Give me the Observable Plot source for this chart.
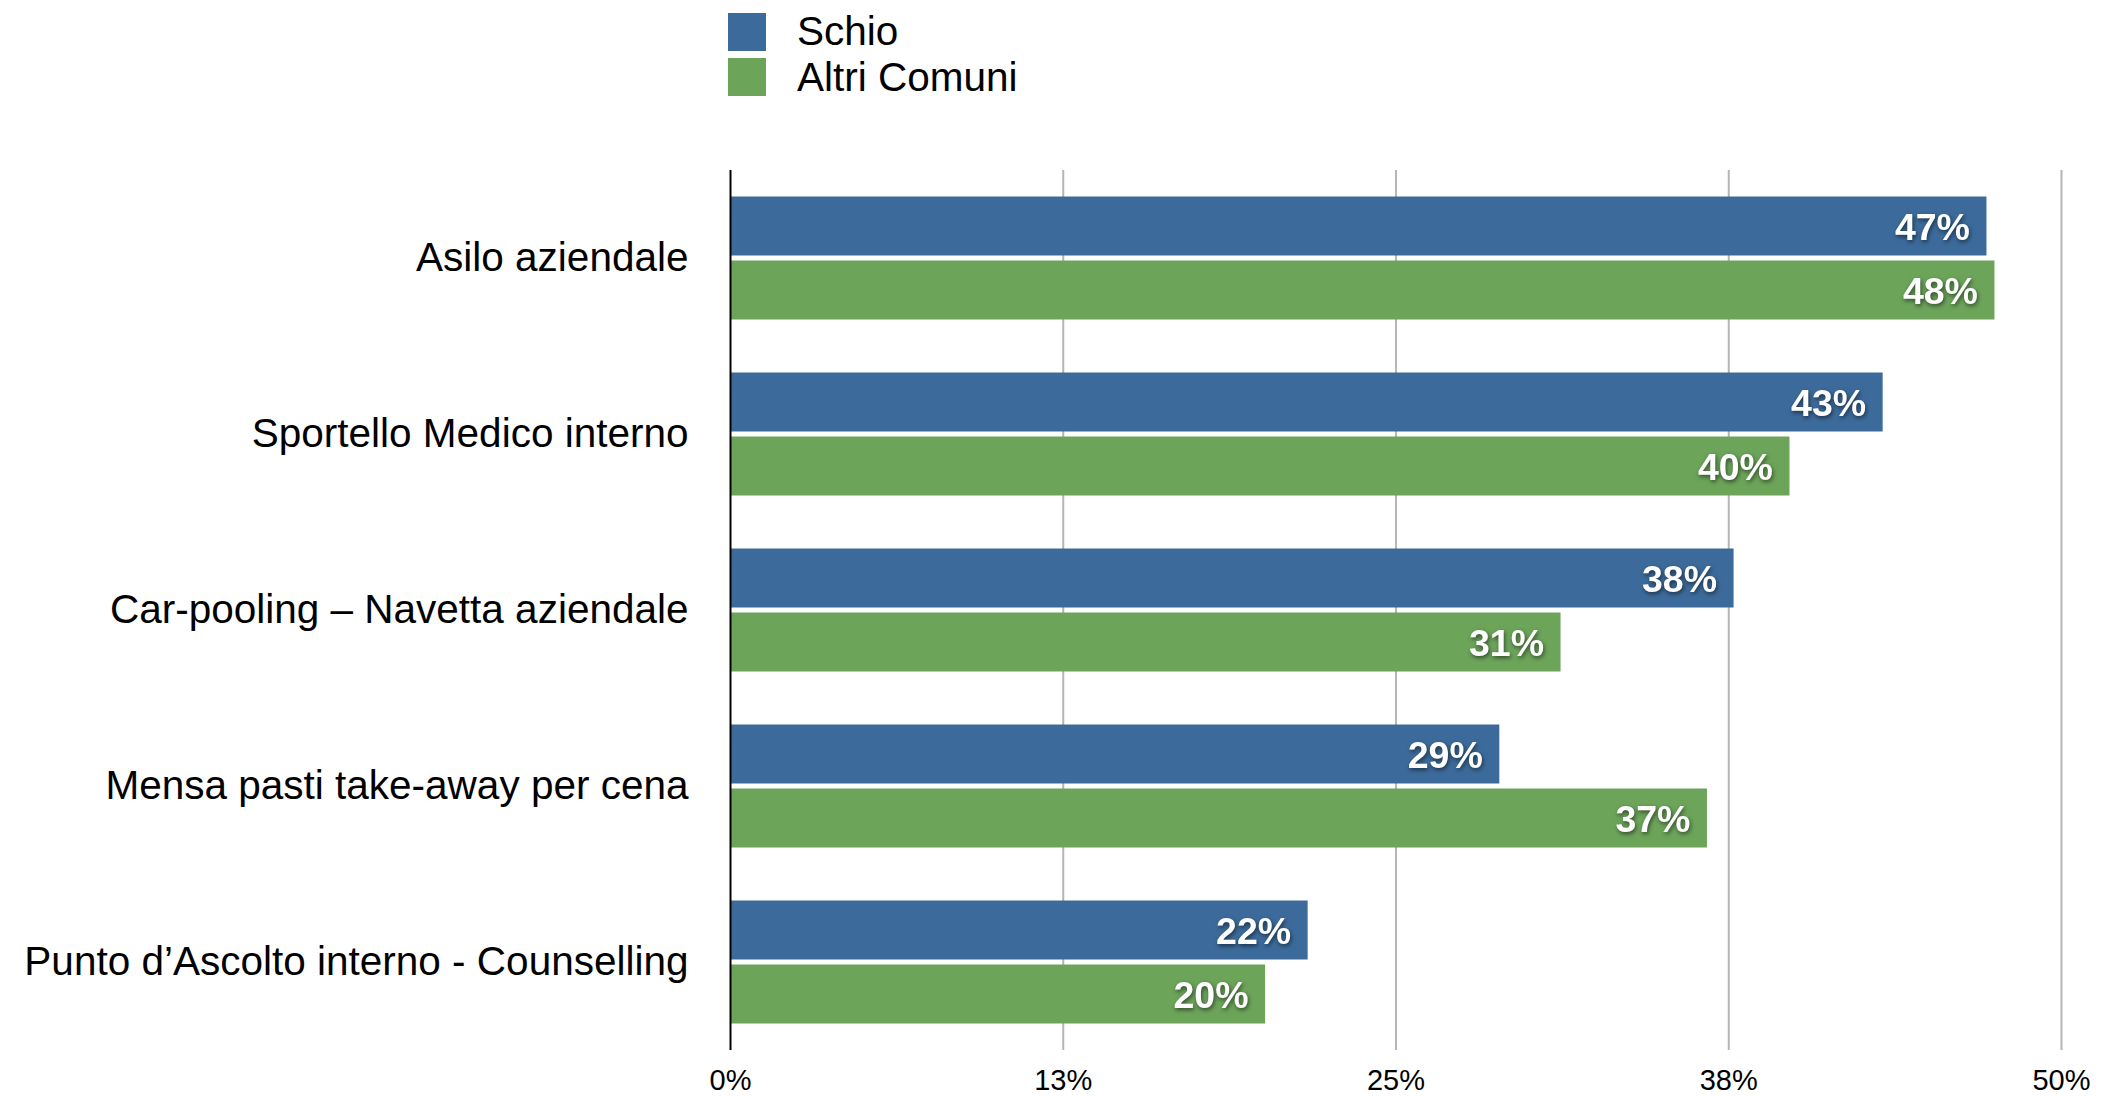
<!DOCTYPE html>
<html>
<head>
<meta charset="utf-8">
<script src="https://cdn.jsdelivr.net/npm/d3@7"></script>
<script src="https://cdn.jsdelivr.net/npm/@observablehq/plot@0.6"></script>
<style>
  html, body { margin: 0; padding: 0; background: #fff; }
  body { font-family: "Liberation Sans", Arial, Helvetica, sans-serif; }
  #wrap { position: relative; width: 2103px; }
  #legend { position: relative; width: 2103px; height: 110px; }
  .sw { position: absolute; width: 38px; height: 38px; }
  .lt { position: absolute; font-size: 40.5px; line-height: normal; color: #000; white-space: nowrap; }
  g[aria-label="text"] { filter: drop-shadow(1px 2px 2px rgba(0,0,0,0.55)); }
</style>
</head>
<body>
<div id="wrap">
  <div id="legend"></div>
  <div id="chart"></div>
</div>
<script>
const categories = [
  "Asilo aziendale",
  "Sportello Medico interno",
  "Car-pooling – Navetta aziendale",
  "Mensa pasti take-away per cena",
  "Punto d’Ascolto interno - Counselling"
];
const series = ["Schio", "Altri Comuni"];
const schio = [47.2, 43.3, 37.7, 28.9, 21.7];
const altri = [47.5, 39.8, 31.2, 36.7, 20.1];
const colors = ["#3c6b9b", "#6ca45a"];
const xTicks = [0, 12.5, 25, 37.5, 50];
const tickLabels = ["0%", "13%", "25%", "38%", "50%"];

const data = [];
categories.forEach((c, i) => {
  data.push({cat: c, series: series[0], value: schio[i]});
  data.push({cat: c, series: series[1], value: altri[i]});
});

const fontFam = '"Liberation Sans", Arial, Helvetica, sans-serif';

const plot = Plot.plot({
  width: 2103,
  height: 986,
  marginTop: 60,
  marginBottom: 46,
  marginLeft: 730,
  marginRight: 42,
  style: {fontFamily: fontFam, color: "#000", background: "#fff"},
  x: {domain: [0, 50], axis: null},
  fy: {domain: categories, padding: 0, label: null, axis: null},
  y: {domain: series, paddingInner: 0.078, paddingOuter: 0.414, round: false, axis: null},
  color: {domain: series, range: colors},
  marks: [
    Plot.ruleX(xTicks.filter(d => d > 0), {stroke: "#b5b5b5", strokeWidth: 2}),
    Plot.barX(data, {fy: "cat", y: "series", x: "value", fill: "series"}),
    Plot.ruleX([0], {stroke: "#000", strokeWidth: 2}),
    Plot.text(data, {
      fy: "cat", y: "series", x: "value",
      text: d => Math.round(d.value) + "%",
      textAnchor: "end", dx: -17, dy: 1,
      fill: "white", fontWeight: "bold", fontSize: 37.5
    }),
    Plot.axisFy({anchor: "left", tickSize: 0, tickPadding: 42, fontSize: 40.5, label: null}),
    Plot.axisX({
      ticks: xTicks, tickSize: 0, tickPadding: 19, fontSize: 29, label: null,
      tickFormat: d => tickLabels[xTicks.indexOf(d)]
    })
  ]
});
document.getElementById("chart").appendChild(plot);

const legend = document.getElementById("legend");
const cs = plot.scale("color");
series.forEach((s, i) => {
  const sw = document.createElement("div");
  sw.className = "sw";
  sw.style.left = "728px";
  sw.style.top = (13 + 45 * i) + "px";
  sw.style.background = cs.range[i];
  legend.appendChild(sw);
  const t = document.createElement("div");
  t.className = "lt";
  t.style.left = "797px";
  t.style.top = (8 + 46 * i) + "px";
  t.textContent = s;
  legend.appendChild(t);
});
</script>
</body>
</html>
